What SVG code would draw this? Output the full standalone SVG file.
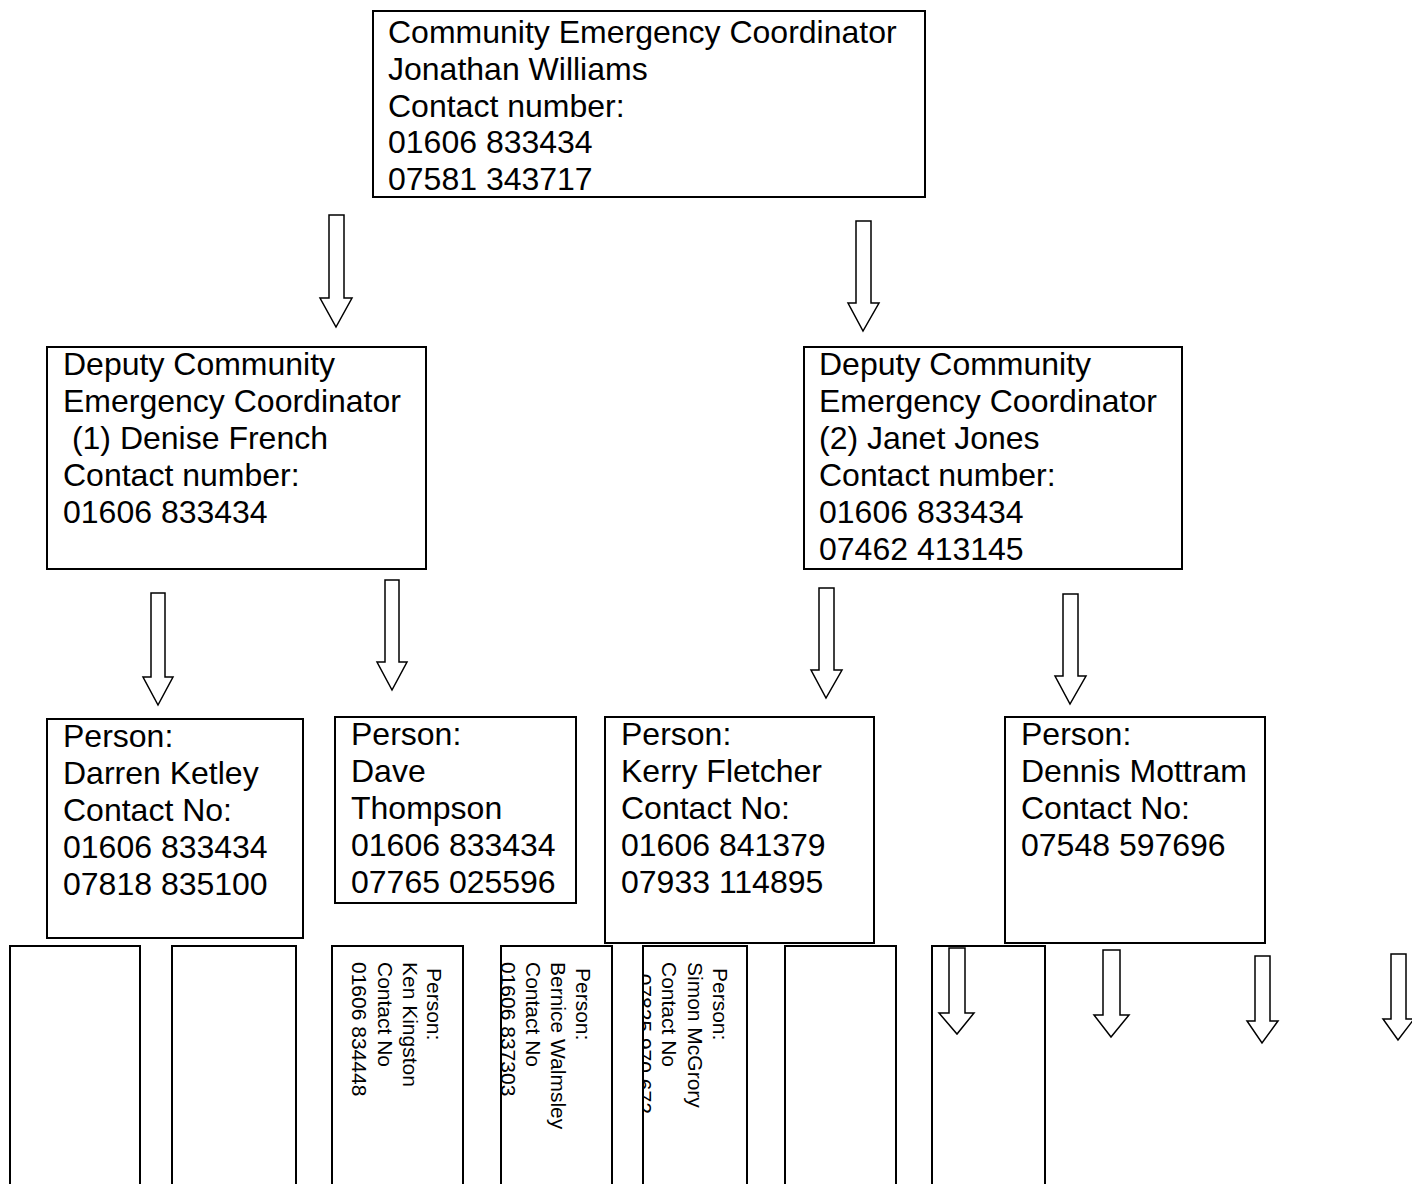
<svg xmlns="http://www.w3.org/2000/svg" width="1412" height="1184" viewBox="0 0 1412 1184">
<style>
.box{fill:#fff;stroke:#000;stroke-width:2}
.t{font-family:"Liberation Sans",Arial,sans-serif;font-size:32px;fill:#000}
.r{font-family:"Liberation Sans",Arial,sans-serif;font-size:21px;fill:#000}
.arrow{fill:#fff;stroke:#000;stroke-width:1.5;stroke-linejoin:miter}
</style>
<defs>
<clipPath id="c3"><rect x="333" y="947" width="129" height="240"/></clipPath>
<clipPath id="c4"><rect x="502" y="947" width="109" height="240"/></clipPath>
<clipPath id="c5"><rect x="644" y="947" width="102" height="240"/></clipPath>
</defs>
<rect width="1412" height="1184" fill="#fff"/>

<g id="coordinator">
<rect class="box" x="373" y="11" width="552" height="186"/>
<text class="t" x="388" y="43">Community Emergency Coordinator</text>
<text class="t" x="388" y="80">Jonathan Williams</text>
<text class="t" x="388" y="117">Contact number:</text>
<text class="t" x="388" y="153">01606 833434</text>
<text class="t" x="388" y="190">07581 343717</text>
</g>

<g id="deputy1">
<rect class="box" x="47" y="347" width="379" height="222"/>
<text class="t" x="63" y="375">Deputy Community</text>
<text class="t" x="63" y="412">Emergency Coordinator</text>
<text class="t" x="63" y="449" xml:space="preserve"> (1) Denise French</text>
<text class="t" x="63" y="486">Contact number:</text>
<text class="t" x="63" y="523">01606 833434</text>
</g>

<g id="deputy2">
<rect class="box" x="804" y="347" width="378" height="222"/>
<text class="t" x="819" y="375">Deputy Community</text>
<text class="t" x="819" y="412">Emergency Coordinator</text>
<text class="t" x="819" y="449">(2) Janet Jones</text>
<text class="t" x="819" y="486">Contact number:</text>
<text class="t" x="819" y="523">01606 833434</text>
<text class="t" x="819" y="560">07462 413145</text>
</g>

<g id="person-darren">
<rect class="box" x="47" y="719" width="256" height="219"/>
<text class="t" x="63" y="747">Person:</text>
<text class="t" x="63" y="784">Darren Ketley</text>
<text class="t" x="63" y="821">Contact No:</text>
<text class="t" x="63" y="858">01606 833434</text>
<text class="t" x="63" y="895">07818 835100</text>
</g>

<g id="person-dave">
<rect class="box" x="335" y="717" width="241" height="186"/>
<text class="t" x="351" y="745">Person:</text>
<text class="t" x="351" y="782">Dave</text>
<text class="t" x="351" y="819">Thompson</text>
<text class="t" x="351" y="856">01606 833434</text>
<text class="t" x="351" y="893">07765 025596</text>
</g>

<g id="person-kerry">
<rect class="box" x="605" y="717" width="269" height="226"/>
<text class="t" x="621" y="745">Person:</text>
<text class="t" x="621" y="782">Kerry Fletcher</text>
<text class="t" x="621" y="819">Contact No:</text>
<text class="t" x="621" y="856">01606 841379</text>
<text class="t" x="621" y="893">07933 114895</text>
</g>

<g id="person-dennis">
<rect class="box" x="1005" y="717" width="260" height="226"/>
<text class="t" x="1021" y="745">Person:</text>
<text class="t" x="1021" y="782">Dennis Mottram</text>
<text class="t" x="1021" y="819">Contact No:</text>
<text class="t" x="1021" y="856">07548 597696</text>
</g>

<g id="slot1"><rect class="box" x="10" y="946" width="130" height="260"/></g>
<g id="slot2"><rect class="box" x="172" y="946" width="124" height="260"/></g>

<g id="person-ken">
<rect class="box" x="332" y="946" width="131" height="260"/>
<g clip-path="url(#c3)">
<text class="r" transform="translate(427,968) rotate(90)">Person:</text>
<text class="r" transform="translate(403,962) rotate(90)">Ken Kingston</text>
<text class="r" transform="translate(378,962) rotate(90)">Contact No</text>
<text class="r" transform="translate(352,962) rotate(90)">01606 834448</text>
</g>
</g>

<g id="person-bernice">
<rect class="box" x="501" y="946" width="111" height="260"/>
<g clip-path="url(#c4)">
<text class="r" transform="translate(576,968) rotate(90)">Person:</text>
<text class="r" transform="translate(551,962) rotate(90)">Bernice Walmsley</text>
<text class="r" transform="translate(526,962) rotate(90)">Contact No</text>
<text class="r" transform="translate(501,962) rotate(90)">01606 837303</text>
</g>
</g>

<g id="person-simon">
<rect class="box" x="643" y="946" width="104" height="260"/>
<g clip-path="url(#c5)">
<text class="r" transform="translate(713,968) rotate(90)">Person:</text>
<text class="r" transform="translate(688,962) rotate(90)">Simon McGrory</text>
<text class="r" transform="translate(662,962) rotate(90)">Contact No</text>
<text class="r" transform="translate(637,962) rotate(90)">. 07825 970 672</text>
</g>
</g>

<g id="slot6"><rect class="box" x="785" y="946" width="111" height="260"/></g>
<g id="slot7"><rect class="box" x="932" y="946" width="113" height="260"/></g>

<g id="connectors">
<polygon class="arrow" points="329,215 344,215 344,298 352,298 336,327 320,298 329,298"/>
<polygon class="arrow" points="856,221 871,221 871,303 879,303 863,331 848,303 856,303"/>
<polygon class="arrow" points="151,593 165,593 165,677 173,677 158,705 143,677 151,677"/>
<polygon class="arrow" points="385,580 399,580 399,662 407,662 392,690 377,662 385,662"/>
<polygon class="arrow" points="819,588 834,588 834,670 842,670 826,698 811,670 819,670"/>
<polygon class="arrow" points="1063,594 1078,594 1078,676 1086,676 1070,704 1055,676 1063,676"/>
<polygon class="arrow" points="949,948 965,948 965,1013 974,1013 957,1034 939,1013 949,1013"/>
<polygon class="arrow" points="1103,950 1120,950 1120,1015 1129,1015 1111,1037 1094,1015 1103,1015"/>
<polygon class="arrow" points="1255,956 1270,956 1270,1021 1278,1021 1262,1043 1247,1021 1255,1021"/>
<polygon class="arrow" points="1391,954 1406,954 1406,1019 1414,1019 1398,1040 1383,1019 1391,1019"/>
</g>
</svg>
